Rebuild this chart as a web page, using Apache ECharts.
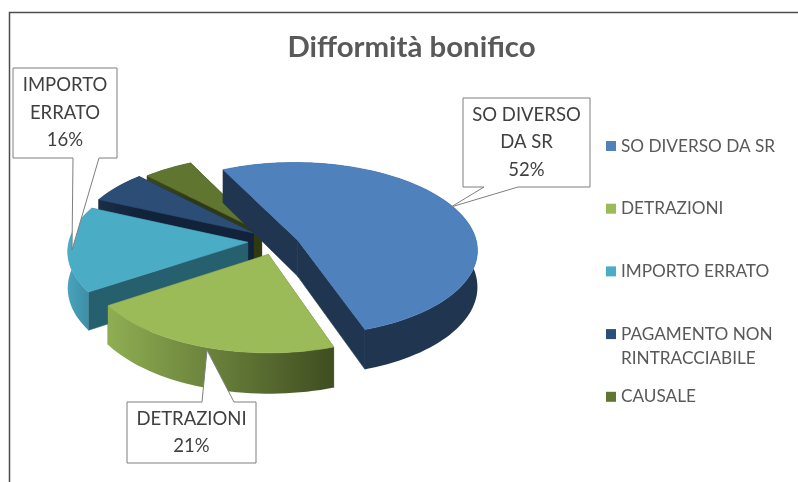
<!DOCTYPE html>
<html>
<head>
<meta charset="utf-8">
<style>
html, body { margin: 0; padding: 0; background: #fff; }
#main { width: 798px; height: 482px; }
</style>
<script src="https://cdn.jsdelivr.net/npm/echarts@6/dist/echarts.min.js"></script>
</head>
<body>
<div id="main"></div>
<script>
var categories = ["SO DIVERSO DA SR", "DETRAZIONI", "IMPORTO ERRATO", "PAGAMENTO NON", "CAUSALE"];
var values = [52, 21, 16, 6, 5];
var labelNames = ["SO DIVERSO\nDA SR", "DETRAZIONI", "IMPORTO\nERRATO"];

var colors = ["#4f81bd", "#9bbb59", "#4bacc6", "#2c4d75", "#5f7530"];
var faceColors = ["#1f3550", "#5d7035", "#265f6e", "#12223a", "#2f3a15"];
var wallFrom = ["#1f3550", "#8fae52", "#4aa3bc", "#1a2e48", "#3a4a1c"];
var wallTo = ["#1f3550", "#3f4d20", "#3a8ba3", "#12223a", "#2f3a15"];
// how far each slice is pulled away from the pie centre, in radii
var explodeU = [0.2, 0.035, -0.08, -0.05, -0.002];
var explodeV = [0.025, 0.19, 0.05, -0.06, -0.07];
// back slices first, so the front ones cover them
var drawOrder = [4, 3, 2, 0, 1];

var pie = { cx: 262, cy: 238, rx: 178, ry: 85, k: 0.1, depth: 36, start: -26 };

var callouts = {
	0: { box: [463, 98, 590, 187], base: [518, 484], tip: [451, 207], side: "bottom" },
	1: { box: [127, 402, 256, 463], base: [202, 234], tip: [207, 350], side: "top" },
	2: { box: [13, 68, 117, 158], base: [99, 73], tip: [72, 250], side: "bottom" }
};

var total = values.reduce(function (a, b) { return a + b; }, 0);

function sliceAngles(index) {
	var before = 0;
	for (var i = 0; i < index; i++) {
		before += values[i];
	}
	return [pie.start + before / total * 360, pie.start + (before + values[index]) / total * 360];
}

// disc coordinates to screen, nearer points get bigger
function project(u, v, down) {
	var s = 1 / (1 - pie.k * v);
	return [pie.cx + pie.rx * u * s, pie.cy + pie.ry * v * s + (down ? pie.depth * s : 0)];
}

function solid(color) {
	return { fill: color, stroke: color, lineWidth: 0.6 };
}

function renderSlice(index) {
	var ang = sliceAngles(index);
	var ou = explodeU[index];
	var ov = explodeV[index];

	var rim = [];
	for (var a = ang[0]; a < ang[1]; a += 2) {
		rim.push([ou + Math.sin(a * Math.PI / 180), ov - Math.cos(a * Math.PI / 180)]);
	}
	rim.push([ou + Math.sin(ang[1] * Math.PI / 180), ov - Math.cos(ang[1] * Math.PI / 180)]);

	var topPts = [project(ou, ov, false)];
	var wallTop = [];
	var wallBottom = [];
	rim.forEach(function (p) {
		topPts.push(project(p[0], p[1], false));
		wallTop.push(project(p[0], p[1], false));
		wallBottom.unshift(project(p[0], p[1], true));
	});

	var first = rim[0];
	var last = rim[rim.length - 1];
	var children = [
		{ type: "polygon", shape: { points: [project(ou, ov, false), project(first[0], first[1], false), project(first[0], first[1], true), project(ou, ov, true)] }, style: solid(faceColors[index]) },
		{ type: "polygon", shape: { points: [project(ou, ov, false), project(last[0], last[1], false), project(last[0], last[1], true), project(ou, ov, true)] }, style: solid(faceColors[index]) },
		{
			type: "polygon",
			shape: { points: wallTop.concat(wallBottom) },
			style: { fill: new echarts.graphic.LinearGradient(0, 0, 1, 0, [{ offset: 0, color: wallFrom[index] }, { offset: 1, color: wallTo[index] }]) }
		},
		{ type: "polygon", shape: { points: topPts }, style: solid(colors[index]) }
	];

	var c = callouts[index];
	if (c) {
		var b = c.box;
		var outline;
		if (c.side === "top") {
			outline = [[b[0], b[1]], [c.base[0], b[1]], c.tip, [c.base[1], b[1]], [b[2], b[1]], [b[2], b[3]], [b[0], b[3]]];
		} else {
			outline = [[b[0], b[1]], [b[2], b[1]], [b[2], b[3]], [c.base[0], b[3]], c.tip, [c.base[1], b[3]], [b[0], b[3]]];
		}
		children.push({ type: "polygon", z2: 100, shape: { points: outline }, style: { fill: "#fff", stroke: "#7f7f7f", lineWidth: 1 } });
		children.push({
			type: "text",
			z2: 101,
			x: (b[0] + b[2]) / 2,
			y: (b[1] + b[3]) / 2,
			style: {
				text: labelNames[index] + "\n" + values[index] + "%",
				align: "center",
				verticalAlign: "middle",
				fontFamily: "Lato",
				fontSize: 18.5,
				lineHeight: 27.5,
				fill: "#404040"
			}
		});
	}
	return { type: "group", children: children };
}

var myChart = echarts.init(document.getElementById("main"));

var seriesList = drawOrder.map(function (index) {
	return {
		type: "custom",
		name: categories[index],
		coordinateSystem: "none",
		silent: true,
		animation: false,
		itemStyle: { color: colors[index] },
		data: [[values[index]]],
		renderItem: function () {
			return renderSlice(index);
		}
	};
});

myChart.setOption({
	backgroundColor: "#fff",
	animation: false,
	title: {
		text: "Difformità bonifico",
		left: 406.5,
		top: 28,
		textAlign: "center",
		textStyle: { fontFamily: "Lato", fontSize: 29.4, fontWeight: "bold", color: "#595959" }
	},
	legend: {
		data: categories,
		orient: "vertical",
		left: 606,
		top: 135,
		padding: 0,
		icon: "rect",
		itemWidth: 10,
		itemHeight: 10,
		itemGap: 40.7,
		selectedMode: false,
		textStyle: { fontFamily: "Lato", fontSize: 17.2, color: "#595959", height: 22, lineHeight: 22 }
	},
	graphic: [
		{ type: "polyline", silent: true, shape: { points: [[798, 12.5], [9.5, 12.5], [9.5, 482]] }, style: { stroke: "#4d4d4d", lineWidth: 1.5, fill: null } },
		{ type: "text", silent: true, x: 621, y: 358, style: { text: "RINTRACCIABILE", fontFamily: "Lato", fontSize: 17.2, fill: "#595959", verticalAlign: "middle" } }
	],
	series: seriesList
});
</script>
</body>
</html>
